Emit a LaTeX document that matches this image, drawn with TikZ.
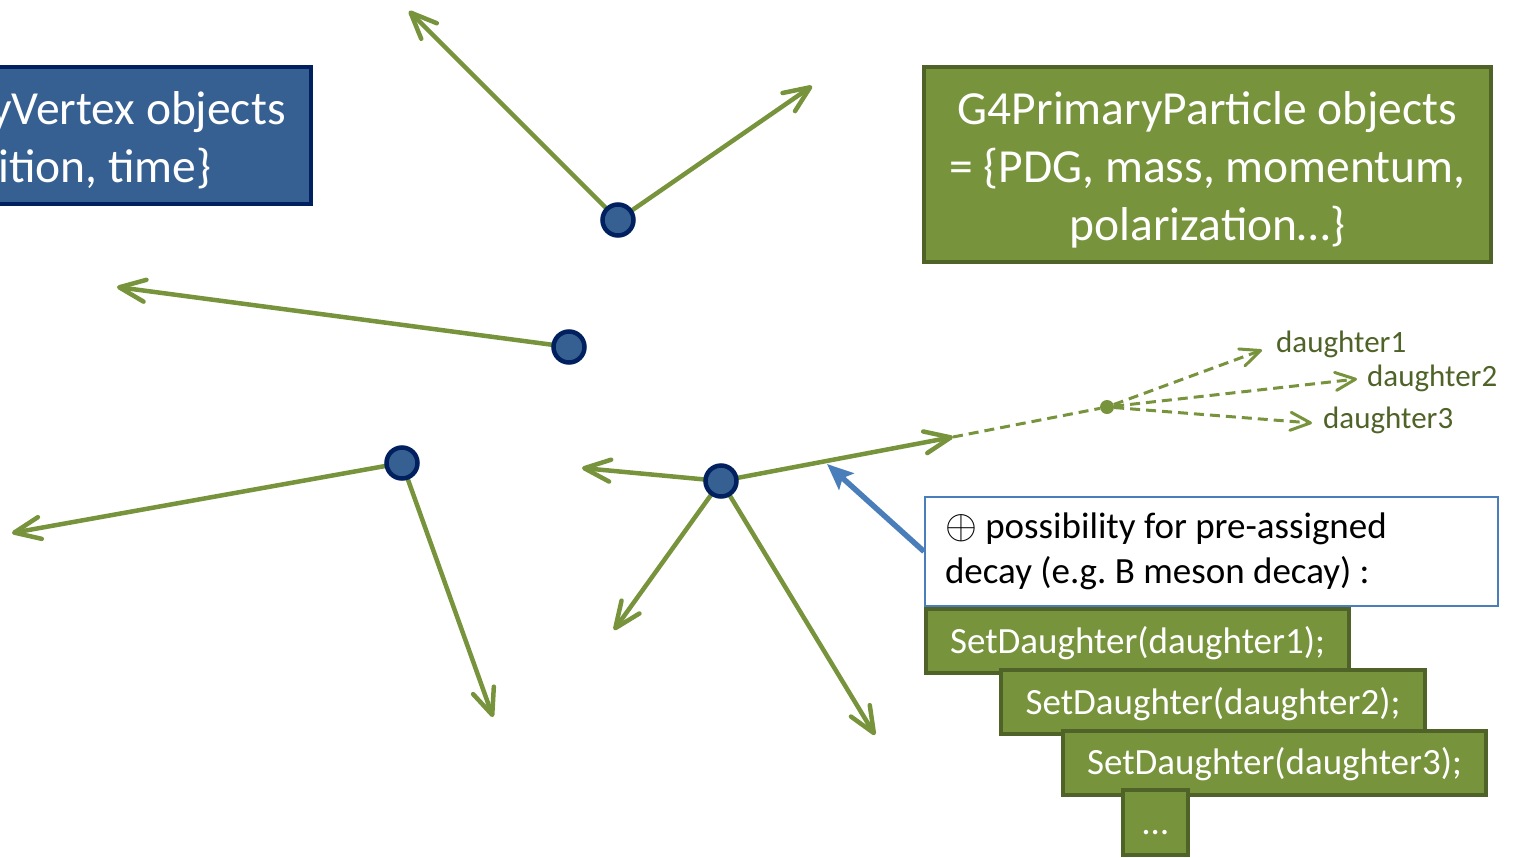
\documentclass[tikz,border=0pt]{standalone}
\usepackage{fontspec}
\setmainfont{Carlito}
\usetikzlibrary{arrows.meta,backgrounds}
\frenchspacing

\definecolor{leaf}{HTML}{77933C}
\definecolor{leafdark}{HTML}{4F6228}
\definecolor{vtxblue}{HTML}{376092}
\definecolor{vtxnavy}{HTML}{002060}
\definecolor{callblue}{HTML}{4A7EBB}

\tikzset{
  track/.style={draw=leaf, line width=4.5pt, line cap=round,
    -{Straight Barb[length=26pt,width=22pt,round]}},
  decayline/.style={draw=leaf, line width=3pt, dash pattern=on 10pt off 6pt},
  daughterline/.style={decayline,
    -{Straight Barb[length=20pt,width=18pt,round]}},
  vertex/.style={circle, draw=vtxnavy, fill=vtxblue, line width=4.5pt,
    minimum size=31pt, inner sep=0pt},
  bigbox/.style={rectangle, line width=4pt, text=white, align=center,
    inner sep=0pt, font=\fontsize{47.5pt}{58pt}\selectfont},
  vtxbox/.style={bigbox, draw=vtxnavy, fill=vtxblue},
  partbox/.style={bigbox, draw=leafdark, fill=leaf},
  codebox/.style={rectangle, draw=leafdark, fill=leaf, line width=4pt,
    text=white, inner sep=0pt, minimum height=64pt,
    text height=30pt, text depth=6pt,
    font=\fontsize{37pt}{45pt}\selectfont},
  notebox/.style={rectangle, draw=callblue, fill=white, line width=2pt,
    inner xsep=20pt, inner ysep=0pt, align=flush left,
    font=\fontsize{37pt}{45pt}\selectfont},
  dlabel/.style={text=leafdark, inner sep=0pt, anchor=base west,
    font=\fontsize{31pt}{37pt}\selectfont},
  callout/.style={draw=callblue, line width=5.5pt,
    -{Stealth[length=26pt,width=22pt,inset=5pt]}}
}
% taller first line, so the text block sits a little lower in its box
\newcommand\firstlinestrut{\rule{0pt}{44pt}}
\newcommand\circplus{\scalebox{1.65}{$\oplus$}}

\begin{document}
\begin{tikzpicture}[x=1pt,y=-1pt]
\useasboundingbox (0,0) rectangle (1517,857);
\clip (0,0) rectangle (1517,857);

% information boxes
\node[vtxbox, minimum width=530pt, minimum height=137pt] (vtxinfo) at (46,135.5)
  {\firstlinestrut G4PrimaryVertex objects\\= \{position, time\}};
\node[partbox, minimum width=567pt, minimum height=195pt] (partinfo) at (1207.5,164.5)
  {\firstlinestrut G4PrimaryParticle objects\\= \{PDG, mass, momentum,\\polarization…\}};

% primary vertices
\node[vertex] (v1) at (618,220) {};
\node[vertex] (v2) at (569,347) {};
\node[vertex] (v3) at (402,463) {};
\node[vertex] (v4) at (721,481) {};

% end points of the primary particle tracks
\coordinate (e1a) at (409,11);
\coordinate (e1b) at (812,86);
\coordinate (e2)  at (117,287);
\coordinate (e3a) at (12,533);
\coordinate (e3b) at (493,717);
\coordinate (e4a) at (582,468);
\coordinate (e4b) at (614,630);
\coordinate (e4c) at (875,735);
\coordinate (e4d) at (953,437);

\begin{scope}[on background layer]
  \draw[track] (v1.center) -- (e1a);
  \draw[track] (v1.center) -- (e1b);
  \draw[track] (v2.center) -- (e2);
  \draw[track] (v3.center) -- (e3a);
  \draw[track] (v3.center) -- (e3b);
  \draw[track] (v4.center) -- (e4a);
  \draw[track] (v4.center) -- (e4b);
  \draw[track] (v4.center) -- (e4c);
  \draw[track] (v4.center) -- (e4d);
\end{scope}

% pre-assigned decay
\node[circle, fill=leaf, inner sep=0pt, minimum size=14pt] (dk) at (1107,407) {};
\draw[decayline] (e4d) -- (dk);
\coordinate (d1) at (1262,350);
\coordinate (d2) at (1357,379);
\coordinate (d3) at (1312,423);
\draw[daughterline] (dk) -- (d1);
\draw[daughterline] (dk) -- (d2);
\draw[daughterline] (dk) -- (d3);
\node[dlabel] (l1) at (1276,352) {daughter1};
\node[dlabel] (l2) at (1367,386) {daughter2};
\node[dlabel] (l3) at (1323,428) {daughter3};

% note and code snippet
\node[notebox, text width=533pt, minimum height=109pt, anchor=north west] (note) at (924,496)
  {\circplus{} possibility for pre-assigned\\decay (e.g. B meson decay) :};
\coordinate (ctip) at (827,464);
\draw[callout] (note.west) -- (ctip);

\node[codebox, minimum width=423pt] (c1) at (1137.5,641) {SetDaughter(daughter1);};
\node[codebox, minimum width=424pt] (c2) at (1213,702) {SetDaughter(daughter2);};
\node[codebox, minimum width=423pt] (c3) at (1274.5,762.5) {SetDaughter(daughter3);};
\node[codebox, minimum width=65pt, minimum height=65pt] (c4) at (1155.5,822.5) {…};
\end{tikzpicture}
\end{document}
